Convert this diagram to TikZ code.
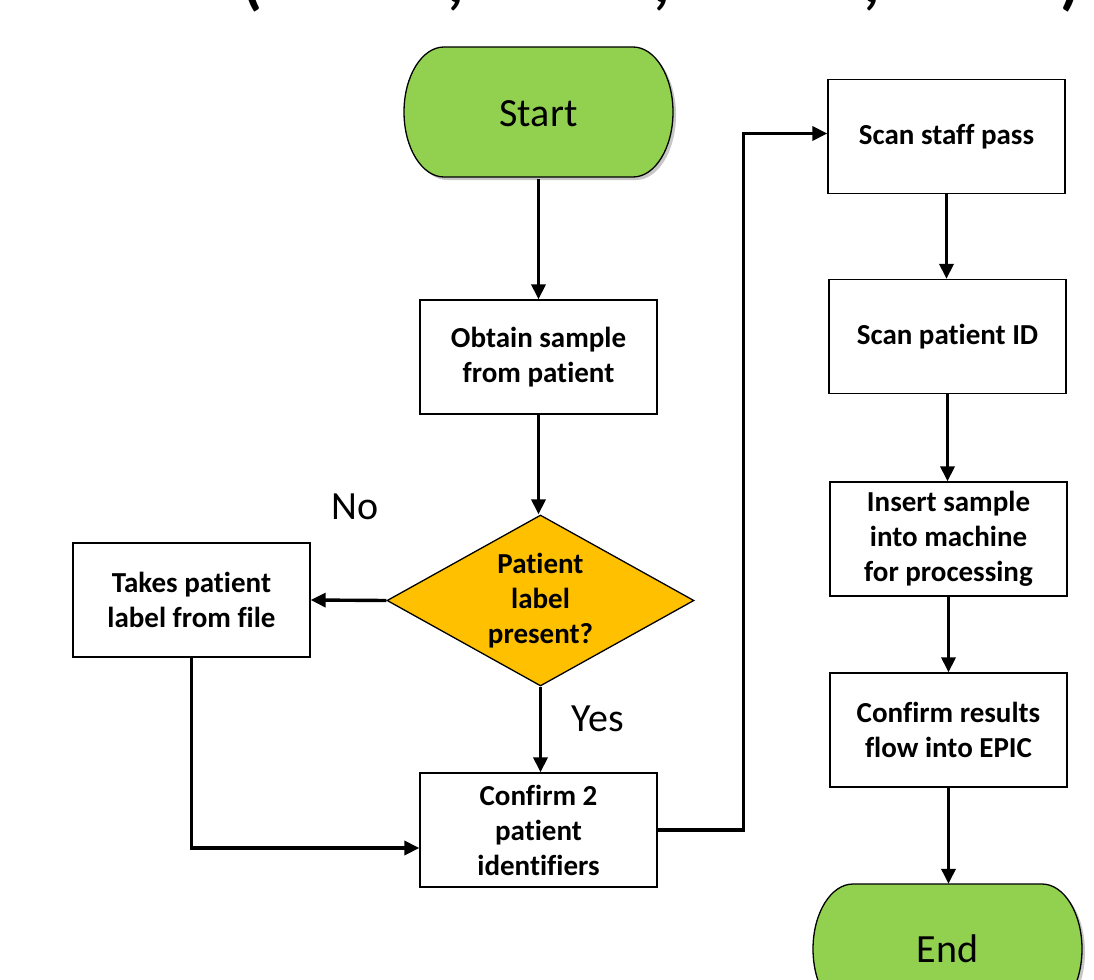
\documentclass[tikz,border=0pt]{standalone}
\usepackage{fontspec}
\setmainfont[Ligatures=NoCommon]{Carlito}
\usetikzlibrary{shapes.geometric,arrows.meta}
\definecolor{termgreen}{HTML}{92D050}
\definecolor{decgold}{HTML}{FFC000}
\begin{document}
\begin{tikzpicture}[x=1pt,y=1pt,
  box/.style={draw,line width=1.3pt,fill=white,minimum width=237pt,minimum height=114pt,
    align=center,inner sep=0pt,font=\fontsize{29}{35}\selectfont\bfseries},
  decision/.style={diamond,draw,line width=1.3pt,fill=decgold,minimum width=307pt,
    minimum height=171pt,aspect=1.8,inner sep=0pt,align=center,
    font=\fontsize{29}{35}\selectfont\bfseries},
  termtext/.style={draw=none,minimum width=269pt,minimum height=130pt,inner sep=0pt,
    font=\fontsize{40}{48}\selectfont},
  termshape/.style={draw,line width=1.3pt,fill=termgreen},
  termshadow/.style={fill=black!22,draw=none},
  label/.style={font=\fontsize{40}{48}\selectfont,inner sep=0pt},
  frag/.style={font=\fontsize{64}{70}\selectfont\bfseries,anchor=base,inner sep=0pt},
  conn/.style={line width=3.4pt,-{Triangle[length=15pt,width=14pt]}}
]
\useasboundingbox (0,0) rectangle (1094,-979);
\clip (0,0) rectangle (1094,-979);

% cut-off title fragments
\node[frag] (f1) at (252,-3) {(};
\node[frag] (f2) at (456,-3) {,};
\node[frag] (f3) at (662,-3) {,};
\node[frag] (f4) at (872,-3) {,};
\node[frag] (f5) at (1070,-3) {)};

% Start terminal
\fill[termshadow] (447,-50) -- (636,-50) .. controls (658,-50) and (676,-79) .. (676,-115)
  .. controls (676,-151) and (658,-180) .. (636,-180) -- (447,-180)
  .. controls (425,-180) and (407,-151) .. (407,-115) .. controls (407,-79) and (425,-50) .. (447,-50) -- cycle;
\draw[termshape] (444,-47) -- (633,-47) .. controls (655,-47) and (673,-76) .. (673,-112)
  .. controls (673,-148) and (655,-177) .. (633,-177) -- (444,-177)
  .. controls (422,-177) and (404,-148) .. (404,-112) .. controls (404,-76) and (422,-47) .. (444,-47) -- cycle;
\node[termtext] (start) at (538.5,-114) {Start};

% End terminal
\fill[termshadow] (856,-887) -- (1045,-887) .. controls (1067,-887) and (1085,-916) .. (1085,-952)
  .. controls (1085,-988) and (1067,-1017) .. (1045,-1017) -- (856,-1017)
  .. controls (834,-1017) and (816,-988) .. (816,-952) .. controls (816,-916) and (834,-887) .. (856,-887) -- cycle;
\draw[termshape] (853,-884) -- (1042,-884) .. controls (1064,-884) and (1082,-913) .. (1082,-949)
  .. controls (1082,-985) and (1064,-1014) .. (1042,-1014) -- (853,-1014)
  .. controls (831,-1014) and (813,-985) .. (813,-949) .. controls (813,-913) and (831,-884) .. (853,-884) -- cycle;
\node[termtext] (end) at (947.5,-949) {End};

% process boxes
\node[box] (obtain) at (538.5,-357) {Obtain sample\\from patient};
\node[decision] (dec) at (540.5,-600.5) {Patient\\label\\present?};
\node[box] (takes) at (191.5,-600) {Takes patient\\label from file};
\node[box] (confirm) at (538.5,-830) {Confirm 2\\patient\\identifiers};
\node[box] (staff) at (946.5,-136.5) {Scan staff pass};
\node[box] (patid) at (947.5,-336.5) {Scan patient ID};
\node[box] (insert) at (948.5,-539) {Insert sample\\into machine\\for processing};
\node[box] (results) at (948.5,-730) {Confirm results\\flow into EPIC};

% labels
\node[label] (no) at (355,-507) {No};
\node[label] (yes) at (598,-719) {Yes};

% connectors
\draw[conn] (start.south) -- (obtain.north);
\draw[conn] (obtain.south) -- (obtain.south |- dec.north);
\draw[conn] (dec.west) -- (takes.east);
\draw[conn] (dec.south) -- (dec.south |- confirm.north);
\draw[conn] (takes.south) |- ([yshift=-18pt]confirm.west);
\draw[conn] (confirm.east) -- ++(86pt,0) |- ([yshift=3pt]staff.west);
\draw[conn] (staff.south) -- (staff.south |- patid.north);
\draw[conn] (patid.south) -- (patid.south |- insert.north);
\draw[conn] (insert.south) -- (insert.south |- results.north);
\draw[conn] (results.south) -- (results.south |- end.north);
\end{tikzpicture}
\end{document}
